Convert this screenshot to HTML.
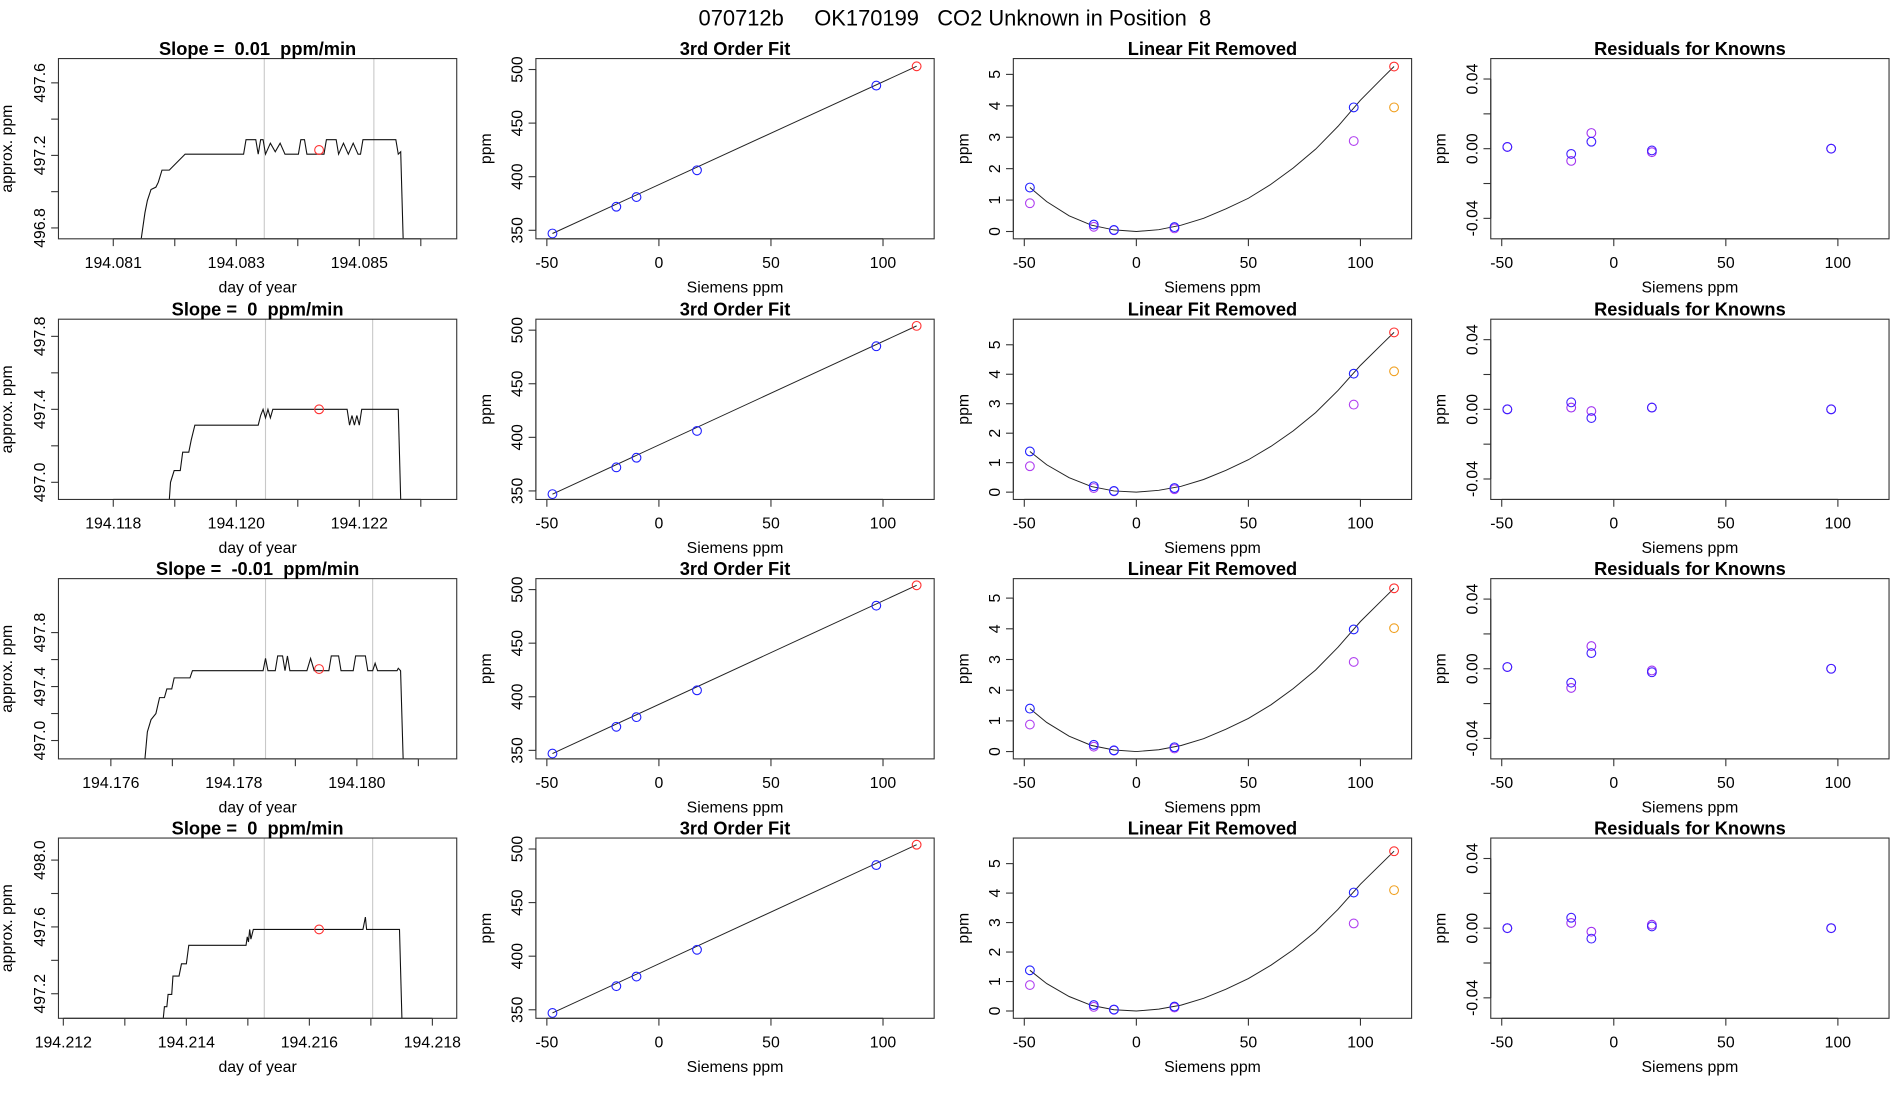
<!DOCTYPE html>
<html><head><meta charset="utf-8"><style>
html,body{margin:0;padding:0;background:#fff;}
svg{display:block;font-family:"Liberation Sans",sans-serif;}
</style></head><body>
<svg id="chart" width="1900" height="1100" viewBox="0 0 1560 903" xmlns="http://www.w3.org/2000/svg">
<text x="784" y="21" text-anchor="middle" font-size="18" xml:space="preserve">070712b     OK170199   CO2 Unknown in Position  8</text>
</svg>
<script>
// ---------- data ----------
const rowBaseDays = [194.081, 194.118, 194.176, 194.212];
const slopeTitles = ["Slope =  0.01  ppm/min","Slope =  0  ppm/min","Slope =  -0.01  ppm/min","Slope =  0  ppm/min"];
// offsets from base day, in micro-days
const trace1Off = [455,515,554,614,693,733,792,911,1168,2119,2158,2317,2356,2396,2436,2475,2554,2634,2713,2792,3010,3050,3109,3149,3426,3465,3624,3663,3743,3822,3901,3980,4020,4059,4594,4634,4673,4713];
const trace1Ppm = [496.743,496.884,496.951,497.012,497.025,497.052,497.119,497.119,497.207,497.207,497.287,497.287,497.207,497.287,497.287,497.207,497.267,497.22,497.267,497.207,497.207,497.287,497.287,497.207,497.207,497.287,497.287,497.207,497.267,497.207,497.267,497.207,497.207,497.287,497.287,497.207,497.22,496.743];
const trace2Off = [911,931,990,1089,1129,1228,1267,1327,1624,2356,2396,2436,2475,2515,2554,2594,3802,3841,3881,3921,3960,4000,4040,4633,4673];
const trace2Ppm = [496.903,497.0,497.064,497.064,497.165,497.165,497.232,497.313,497.313,497.313,497.366,497.4,497.353,497.4,497.353,497.4,497.4,497.313,497.366,497.313,497.366,497.313,497.4,497.4,496.903];
const trace3Off = [554,594,653,733,792,871,911,990,1030,1287,1327,2475,2515,2554,2673,2713,2792,2831,2871,2911,3188,3247,3307,3544,3584,3703,3742,3940,3980,4138,4178,4257,4297,4336,4653,4673,4712,4752];
const trace3Ppm = [496.864,497.064,497.155,497.2,497.318,497.318,497.382,497.382,497.464,497.464,497.518,497.518,497.609,497.518,497.518,497.627,497.627,497.518,497.627,497.518,497.518,497.609,497.518,497.518,497.627,497.627,497.518,497.518,497.627,497.627,497.518,497.518,497.573,497.518,497.518,497.536,497.518,496.864];
const trace4Off = [1624,1643,1683,1703,1762,1782,1881,1921,2000,2039,2277,2970,2990,3010,3029,3049,3089,4871,4910,4930,5465,5504];
const trace4Ppm = [497.049,497.122,497.122,497.196,497.196,497.306,497.306,497.379,497.379,497.49,497.49,497.49,497.541,497.51,497.585,497.527,497.585,497.585,497.659,497.585,497.585,497.049];
const greyLineOff = [[2455,4237],[2475,4217],[2515,4257],[3267,5029]];
const redPointOff = [3346,3346,3386,4158];
const redPointPpm = [497.23,497.4,497.53,497.585];
const col1YDomain = [[496.74,497.734],[496.906,497.894],[496.864,498.2],[497.053,498.132]];
const col1YTicks = [[496.8,497.0,497.2,497.4,497.6],[497.0,497.2,497.4,497.6,497.8],[497.0,497.2,497.4,497.6,497.8],[497.2,497.4,497.6,497.8,498.0]];
const col1XTickOff = [[0,1000,2000,3000,4000,5000],[0,1000,2000,3000,4000,5000],[0,1000,2000,3000,4000,5000],[0,1000,2000,3000,4000,5000,6000]];
const col1XDomainOff = [[-891,5584],[-891,5584],[-852,5624],[-79,6396]];

const knownX = [-47.5,-19,-10,17,97];
const fitPpm = [[347,372,381,406,485],[347,372,381,406,485],[347,372,381,406,485],[347,372,381,406,485]];
const unknownX = 115;
const unknownPpm = [503,504,504,504];
const col2Ticks = [350,400,450,500];
const xTicks = [-50,0,50,100];

const linBlue = [[1.4,0.22,0.05,0.14,3.95],[1.38,0.2,0.04,0.14,4.02],[1.4,0.22,0.04,0.14,3.98],[1.38,0.2,0.05,0.15,4.02]];
const linPurple = [[0.9,0.15,0.04,0.1,2.88],[0.88,0.14,0.03,0.1,2.97],[0.88,0.16,0.03,0.1,2.92],[0.88,0.14,0.04,0.12,2.97]];
const linRed = [5.25,5.42,5.32,5.42];
const linOrange = [3.95,4.1,4.02,4.1];
const curveX = [-47.5,-40,-30,-20,-10,0,10,20,30,40,50,60,70,80,90,100,110,115];
const curveY = [
 [1.4,0.95,0.5,0.2,0.05,0.0,0.06,0.2,0.42,0.72,1.06,1.5,2.02,2.62,3.35,4.18,4.9,5.25],
 [1.38,0.93,0.49,0.19,0.04,0.0,0.06,0.2,0.43,0.74,1.1,1.55,2.08,2.7,3.45,4.3,5.05,5.42],
 [1.4,0.95,0.5,0.2,0.05,0.0,0.06,0.2,0.42,0.73,1.08,1.52,2.05,2.66,3.4,4.24,4.96,5.32],
 [1.38,0.93,0.49,0.19,0.04,0.0,0.06,0.2,0.43,0.74,1.1,1.55,2.08,2.7,3.45,4.3,5.05,5.42]];
const linYScale = [25.8,24.2,25.2,24.2];
const linTicks = [0,1,2,3,4,5];

const resBlue = [[0.001,-0.003,0.004,-0.001,0.0],[0.0,0.004,-0.005,0.001,0.0],[0.001,-0.008,0.009,-0.002,0.0],[0.0,0.006,-0.006,0.001,0.0]];
const resPurple = [[0.001,-0.007,0.009,-0.002,0.0],[0.0,0.001,-0.001,0.001,0.0],[0.001,-0.011,0.013,-0.001,0.0],[0.0,0.003,-0.002,0.002,0.0]];
const resTicks = [-0.04,-0.02,0,0.02,0.04];
const resLabels = {"-0.04":"-0.04","0":"0.00","0.04":"0.04"};

// ---------- drawing ----------
const NS="http://www.w3.org/2000/svg";
const svg=document.getElementById('chart');
const colL=[48,440,832,1224], rowT=[48,262,475,688], W=327, H=148;
function mk(tag,attrs,parent,txt){const e=document.createElementNS(NS,tag);for(const k in attrs)e.setAttribute(k,attrs[k]);if(txt!==undefined)e.textContent=txt;(parent||svg).appendChild(e);return e;}
function fmt(v,d){return v.toFixed(d);}
function circle(g,x,y,color,name){const c=mk('circle',{cx:x,cy:y,r:3.6,fill:'none',stroke:color,'stroke-width':0.9},g);
 
 }
function axes(g,L,T,xt,xs,xlab,yt,ys,ylab,title,xtitle,ytitle,ylabx){
 const bx=mk('rect',{x:L,y:T,width:W,height:H,fill:'none',stroke:'#333','stroke-width':0.9},g);
 
 
 const B=T+H;
 const xa=mk('g',{},g);
 
 
 const px=xt.map(xs);
 mk('line',{x1:px[0],x2:px[px.length-1],y1:B,y2:B,stroke:'#333','stroke-width':0.9},xa);
 xt.forEach((v,i)=>{mk('line',{x1:px[i],x2:px[i],y1:B,y2:B+6,stroke:'#333','stroke-width':0.9},xa);
  const l=xlab(v,i); if(l!==null){const t=mk('text',{x:px[i],y:B+24,'text-anchor':'middle','font-size':13},xa,l);
  
  }});
 const ya=mk('g',{},g);
 
 
 const py=yt.map(ys);
 mk('line',{x1:L,x2:L,y1:py[0],y2:py[py.length-1],stroke:'#333','stroke-width':0.9},ya);
 yt.forEach((v,i)=>{mk('line',{x1:L-6,x2:L,y1:py[i],y2:py[i],stroke:'#333','stroke-width':0.9},ya);
  const l=ylab(v,i); if(l!==null){const x=L-11;const t=mk('text',{x:x,y:py[i],'text-anchor':'middle','font-size':13,transform:`rotate(-90 ${x} ${py[i]})`},ya,l);
  
  }});
 const tt=mk('text',{x:L+W/2,y:T-3,'text-anchor':'middle','font-size':15,'font-weight':'bold'},g,title);
 tt.setAttributeNS('http://www.w3.org/XML/1998/namespace','xml:space','preserve');
 tt.style.whiteSpace='pre';
 
 
 const xl=mk('text',{x:L+W/2,y:B+44,'text-anchor':'middle','font-size':13},g,xtitle);
 
 
 const yx=ylabx, yy=T+H/2;
 const yl=mk('text',{x:yx,y:yy,'text-anchor':'middle','font-size':13,transform:`rotate(-90 ${yx} ${yy})`},g,ytitle);
 
 
}
const traceOff=[trace1Off,trace2Off,trace3Off,trace4Off];
const tracePpm=[trace1Ppm,trace2Ppm,trace3Ppm,trace4Ppm];
const defs=mk('defs',{});
for(let r=0;r<4;r++){
 const T=rowT[r];
 // column 1
 {const L=colL[0];const g=mk('g',{});
  
  
  const d0=col1XDomainOff[r];const xs=o=>L+(o-d0[0])/(d0[1]-d0[0])*W;
  const yd=col1YDomain[r];const ys=v=>T+H-(v-yd[0])/(yd[1]-yd[0])*H;
  const cp=mk('clipPath',{id:'clip'+r},defs);mk('rect',{x:L,y:T,width:W,height:H},cp);
  greyLineOff[r].forEach(o=>{const l=mk('line',{x1:xs(o),x2:xs(o),y1:T,y2:T+H,stroke:'#c8c8c8','stroke-width':0.9},g);
   
   });
  const pts=traceOff[r].map((o,i)=>xs(o).toFixed(1)+','+ys(tracePpm[r][i]).toFixed(1)).join(' ');
  const pl=mk('polyline',{points:pts,fill:'none',stroke:'#111','stroke-width':0.9,'clip-path':`url(#clip${r})`},g);
  
  
  circle(g,xs(redPointOff[r]),ys(redPointPpm[r]),'#ff3030','mean-point');
  axes(g,L,T,col1XTickOff[r],xs,(v,i)=>i%2===0?fmt(rowBaseDays[r]+v/1e6,3):null,col1YTicks[r],ys,(v,i)=>i%2===0?fmt(v,1):null,slopeTitles[r],'day of year','approx. ppm',10);
 }
 const xsF=L=>x=>L+9+(x+50)*1.84;
 // column 2
 {const L=colL[1];const g=mk('g',{});
  
  
  const xs=xsF(L);const ys=v=>T+141-(v-350)*0.88;
  const fl=mk('line',{x1:xs(knownX[0]),y1:ys(fitPpm[r][0]),x2:xs(unknownX),y2:ys(unknownPpm[r]),stroke:'#222','stroke-width':0.8},g);
  
  
  knownX.forEach((x,i)=>circle(g,xs(x),ys(fitPpm[r][i]),'#2020ff','known-standard-point'));
  circle(g,xs(unknownX),ys(unknownPpm[r]),'#ff3030','unknown-point');
  axes(g,L,T,xTicks,xs,v=>String(v),col2Ticks,ys,v=>String(v),'3rd Order Fit','Siemens ppm','ppm',L-37);
 }
 // column 3
 {const L=colL[2];const g=mk('g',{});
  
  
  const xs=xsF(L);const k=linYScale[r];const ys=v=>T+142-v*k;
  const pts=curveX.map((x,i)=>xs(x).toFixed(1)+','+ys(curveY[r][i]).toFixed(1)).join(' ');
  const c=mk('polyline',{points:pts,fill:'none',stroke:'#222','stroke-width':0.8},g);
  
  
  knownX.forEach((x,i)=>circle(g,xs(x),ys(linPurple[r][i]),'#b040f0','raw-standard-point'));
  knownX.forEach((x,i)=>circle(g,xs(x),ys(linBlue[r][i]),'#2020ff','fit-standard-point'));
  circle(g,xs(unknownX),ys(linOrange[r]),'#f0a020','raw-unknown-point');
  circle(g,xs(unknownX),ys(linRed[r]),'#ff3030','unknown-point');
  axes(g,L,T,xTicks,xs,v=>String(v),linTicks,ys,v=>String(v),'Linear Fit Removed','Siemens ppm','ppm',L-37);
 }
 // column 4
 {const L=colL[3];const g=mk('g',{});
  
  
  const xs=xsF(L);const ys=v=>T+74-v*1430;
  knownX.forEach((x,i)=>circle(g,xs(x),ys(resPurple[r][i]),'#a030f0','residual-point-raw'));
  knownX.forEach((x,i)=>circle(g,xs(x),ys(resBlue[r][i]),'#4020ff','residual-point'));
  axes(g,L,T,xTicks,xs,v=>String(v),resTicks,ys,v=>{const s=String(Math.round(v*100)/100);return resLabels[s]!==undefined?resLabels[s]:null;},'Residuals for Knowns','Siemens ppm','ppm',L-37);
 }
}
</script>
</body></html>
